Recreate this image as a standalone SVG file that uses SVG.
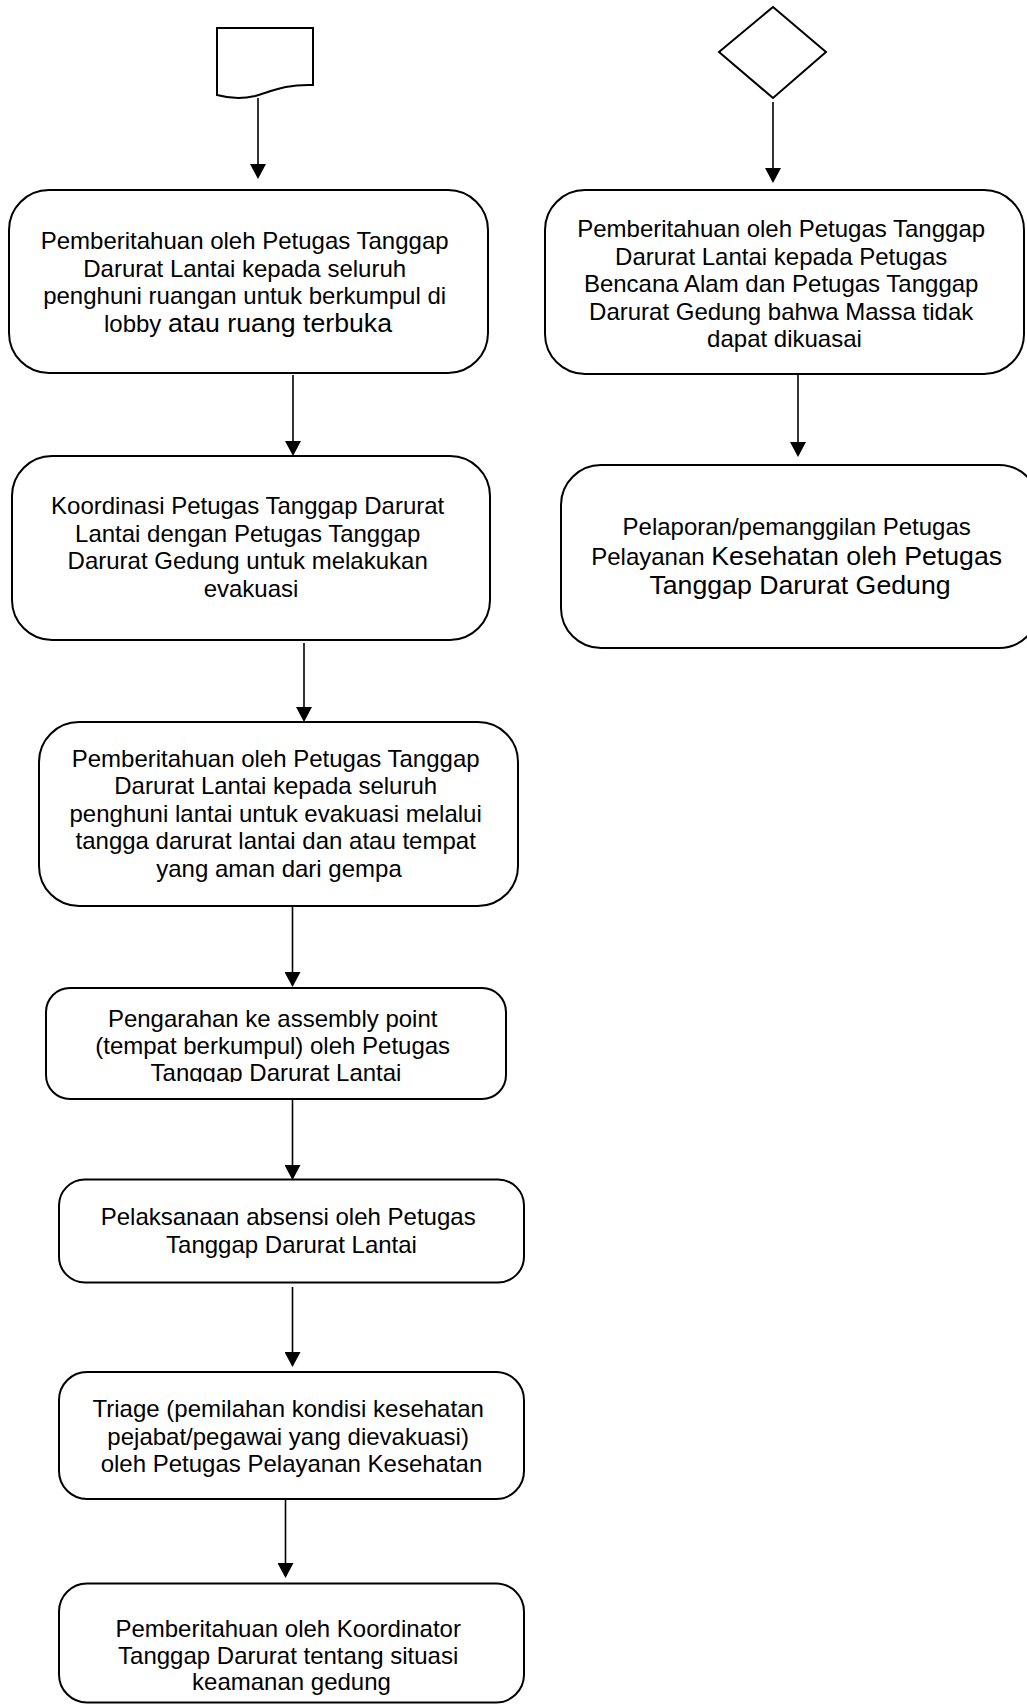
<svg xmlns="http://www.w3.org/2000/svg" width="1027" height="1707" viewBox="0 0 1027 1707">
<style>
  .box { fill: #ffffff; stroke: #000000; stroke-width: 2; }
  .shape { fill: #ffffff; stroke: #000000; stroke-width: 2; }
  .conn { fill: none; stroke: #000000; stroke-width: 1.6; }
  .t { font-family: "Liberation Sans", Arial, sans-serif; font-size: 24px; fill: #000000; text-anchor: middle; }
  .big { font-size: 26.7px; }
</style>
<defs>
  <marker id="arrow" viewBox="0 0 15 16" refX="13" refY="8" markerWidth="15" markerHeight="16" markerUnits="userSpaceOnUse" orient="auto">
    <path d="M0,0 L15,8 L0,16 Z" fill="#000000"/>
  </marker>
  <clipPath id="clip6">
    <rect x="40" y="990" width="470" height="92"/>
  </clipPath>
</defs>
<rect width="1027" height="1707" fill="#ffffff"/>

<g id="connectors">
  <line class="conn" x1="258" y1="98" x2="258" y2="177" marker-end="url(#arrow)"/>
  <line class="conn" x1="773" y1="102" x2="773" y2="181" marker-end="url(#arrow)"/>
  <line class="conn" x1="798" y1="375" x2="798" y2="455" marker-end="url(#arrow)"/>
  <line class="conn" x1="293" y1="375" x2="293" y2="454" marker-end="url(#arrow)"/>
  <line class="conn" x1="304" y1="643" x2="304" y2="720" marker-end="url(#arrow)"/>
  <line class="conn" x1="292.5" y1="907" x2="292.5" y2="985" marker-end="url(#arrow)"/>
  <line class="conn" x1="292.5" y1="1100" x2="292.5" y2="1178" marker-end="url(#arrow)"/>
  <line class="conn" x1="292.5" y1="1287" x2="292.5" y2="1365" marker-end="url(#arrow)"/>
  <line class="conn" x1="285.5" y1="1500" x2="285.5" y2="1576" marker-end="url(#arrow)"/>
</g>

<g id="start-document">
  <path class="shape" d="M217,28 L313,28 L313,85 C285,84 270,92 255,96 C240,99.5 228,98 217,95 Z"/>
</g>

<g id="start-decision">
  <path class="shape" d="M773,7 L826,52 L773,98 L719,52 Z"/>
</g>

<g id="node-1">
  <rect class="box" x="9" y="190" width="479" height="183" rx="40" ry="40"/>
  <text class="t">
    <tspan x="248" y="249">Pemberitahuan oleh Petugas Tanggap</tspan>
    <tspan x="248" y="276.5">Darurat Lantai kepada seluruh</tspan>
    <tspan x="248" y="304">penghuni ruangan untuk berkumpul di</tspan>
    <tspan x="248" y="332">lobby <tspan class="big">atau ruang terbuka</tspan></tspan>
  </text>
</g>

<g id="node-2">
  <rect class="box" x="545" y="190" width="479" height="184" rx="40" ry="40"/>
  <text class="t">
    <tspan x="784.5" y="237">Pemberitahuan oleh Petugas Tanggap</tspan>
    <tspan x="784.5" y="264.6">Darurat Lantai kepada Petugas</tspan>
    <tspan x="784.5" y="292.2">Bencana Alam dan Petugas Tanggap</tspan>
    <tspan x="784.5" y="319.8">Darurat Gedung bahwa Massa tidak</tspan>
    <tspan x="784.5" y="347.4">dapat dikuasai</tspan>
  </text>
</g>

<g id="node-3">
  <rect class="box" x="561" y="465" width="478" height="183" rx="40" ry="40"/>
  <text class="t">
    <tspan x="800" y="535">Pelaporan/pemanggilan Petugas</tspan>
    <tspan x="800" y="564.5">Pelayanan <tspan class="big">Kesehatan oleh Petugas</tspan></tspan>
    <tspan x="800" y="594" class="big">Tanggap Darurat Gedung</tspan>
  </text>
</g>

<g id="node-4">
  <rect class="box" x="12" y="456" width="478" height="184" rx="40" ry="40"/>
  <text class="t">
    <tspan x="251" y="514">Koordinasi Petugas Tanggap Darurat</tspan>
    <tspan x="251" y="541.7">Lantai dengan Petugas Tanggap</tspan>
    <tspan x="251" y="569.4">Darurat Gedung untuk melakukan</tspan>
    <tspan x="251" y="597">evakuasi</tspan>
  </text>
</g>

<g id="node-5">
  <rect class="box" x="39" y="722" width="479" height="184" rx="40" ry="40"/>
  <text class="t">
    <tspan x="279" y="767">Pemberitahuan oleh Petugas Tanggap</tspan>
    <tspan x="279" y="794.4">Darurat Lantai kepada seluruh</tspan>
    <tspan x="279" y="821.8">penghuni lantai untuk evakuasi melalui</tspan>
    <tspan x="279" y="849.2">tangga darurat lantai dan atau tempat</tspan>
    <tspan x="279" y="876.6">yang aman dari gempa</tspan>
  </text>
</g>

<g id="node-6">
  <rect class="box" x="46" y="988" width="460" height="111" rx="24" ry="24"/>
  <text class="t" clip-path="url(#clip6)">
    <tspan x="276" y="1026.5">Pengarahan ke assembly point</tspan>
    <tspan x="276" y="1053.5">(tempat berkumpul) oleh Petugas</tspan>
    <tspan x="276" y="1080.5">Tanggap Darurat Lantai</tspan>
  </text>
</g>

<g id="node-7">
  <rect class="box" x="59" y="1179.5" width="465" height="103" rx="26" ry="26"/>
  <text class="t">
    <tspan x="291.5" y="1225">Pelaksanaan absensi oleh Petugas</tspan>
    <tspan x="291.5" y="1252.5">Tanggap Darurat Lantai</tspan>
  </text>
</g>

<g id="node-8">
  <rect class="box" x="59" y="1372" width="465" height="127" rx="28" ry="28"/>
  <text class="t">
    <tspan x="291.5" y="1417">Triage (pemilahan kondisi kesehatan</tspan>
    <tspan x="291.5" y="1444.5">pejabat/pegawai yang dievakuasi)</tspan>
    <tspan x="291.5" y="1472">oleh Petugas Pelayanan Kesehatan</tspan>
  </text>
</g>

<g id="node-9">
  <rect class="box" x="59" y="1583.5" width="465" height="119" rx="28" ry="28"/>
  <text class="t">
    <tspan x="291.5" y="1636.5">Pemberitahuan oleh Koordinator</tspan>
    <tspan x="291.5" y="1663.5">Tanggap Darurat tentang situasi</tspan>
    <tspan x="291.5" y="1690">keamanan gedung</tspan>
  </text>
</g>
</svg>
